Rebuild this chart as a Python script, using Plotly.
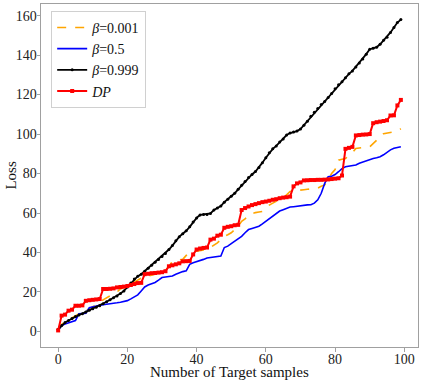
import plotly.graph_objects as go

# x = number of target samples
samples = list(range(100))

loss_b001 = [0.5, 3.5, 5.0, 6.0, 7.0, 8.0, 9.0, 9.8, 10.5, 11.5,
             12.5, 13.5, 14.5, 16.0, 17.0, 18.0, 19.0, 20.0, 21.5, 22.2,
             23.0, 23.8, 25.0, 26.0, 27.0, 27.5, 28.0, 28.5, 29.0, 30.0,
             30.6, 31.0, 33.0, 35.5, 36.0, 36.3, 36.5, 38.5, 40.0, 40.3,
             40.7, 41.0, 41.3, 41.6, 42.5, 43.5, 44.9, 46.5, 48.2, 49.0,
             50.0, 51.6, 53.3, 55.8, 57.0, 59.1, 59.8, 60.2, 60.5, 60.8,
             62.5, 64.0, 65.0, 66.0, 67.0, 67.5, 69.0, 70.9, 71.2, 71.5,
             71.7, 71.8, 72.0, 72.2, 72.4, 72.6, 73.5, 74.2, 77.0, 80.0,
             82.0, 86.8, 87.2, 87.6, 89.3, 90.5, 92.7, 93.0, 93.2, 93.4,
             93.5, 95.0, 96.8, 98.5, 100.2, 100.5, 100.8, 101.0, 101.5, 102.7]

loss_b05 = [0.5, 3.0, 3.8, 4.5, 5.0, 5.5, 8.9, 9.0, 9.2, 12.0,
            12.5, 13.0, 13.2, 13.5, 13.7, 13.9, 14.0, 14.5, 14.8, 15.2,
            15.6, 16.5, 17.5, 18.5, 20.5, 22.5, 23.5, 24.2, 24.8, 26.0,
            27.3, 27.6, 27.9, 28.1, 29.0, 29.8, 30.3, 30.7, 34.0, 34.8,
            35.3, 35.7, 36.5, 37.2, 37.5, 37.6, 37.8, 38.2, 42.5, 43.2,
            44.5, 45.7, 47.0, 48.2, 50.0, 51.6, 52.2, 52.8, 53.3, 54.5,
            55.8, 57.5, 58.5, 59.8, 61.0, 61.7, 62.5, 63.0, 63.2, 63.5,
            63.7, 64.0, 64.1, 64.2, 65.0, 66.7, 70.0, 75.0, 78.4, 78.6,
            79.5, 80.9, 82.5, 83.4, 83.7, 84.0, 84.3, 85.2, 85.9, 86.2,
            87.2, 87.6, 88.0, 88.5, 89.5, 91.0, 92.0, 92.8, 93.3, 93.6]

loss_b0999 = [1.0, 3.0, 4.5, 5.5, 6.5, 7.5, 8.3, 9.0, 9.8, 10.7,
              11.5, 12.2, 13.0, 14.0, 15.0, 16.0, 17.0, 18.0, 19.2, 20.5,
              22.5, 24.5, 26.5, 28.0, 29.0, 30.5, 32.0, 33.5, 35.0, 36.5,
              38.0, 39.5, 41.5, 43.5, 46.0, 48.0, 49.5, 51.0, 53.0, 55.5,
              57.5, 59.0, 59.2, 59.3, 59.8, 61.5, 62.5, 63.5, 65.5, 67.0,
              68.5, 70.0, 72.0, 74.0, 76.0, 78.0, 79.5, 81.0, 83.0, 85.5,
              88.0, 90.5, 92.5, 94.0, 96.0, 97.5, 99.5, 100.5, 101.0, 101.5,
              102.5, 104.5, 106.5, 109.0, 111.0, 113.0, 115.0, 116.5, 118.5, 120.5,
              123.0, 125.0, 126.5, 128.5, 130.5, 132.0, 134.0, 136.0, 138.0, 140.5,
              143.0, 143.5, 144.0, 145.5, 147.5, 149.0, 151.5, 154.0, 156.5, 158.0]

loss_dp = [0.5, 8.0, 8.5, 10.5, 11.0, 13.0, 13.0, 13.2, 15.5, 15.8,
           16.0, 16.2, 16.4, 21.5, 21.5, 21.6, 21.8, 22.3, 22.5, 22.7,
           23.0, 23.5, 24.0, 24.5, 24.6, 29.0, 29.2, 29.5, 29.6, 29.8,
           30.0, 30.5, 33.0, 33.5, 34.0, 34.5, 35.5, 35.6, 35.7, 39.0,
           41.5, 42.0, 42.3, 42.5, 46.5, 47.0, 48.5, 49.0, 52.5, 53.0,
           53.3, 53.8, 54.0, 61.5, 62.5, 63.3, 64.0, 64.5, 65.0, 65.5,
           65.8, 66.2, 66.7, 67.0, 67.5, 67.8, 68.0, 68.3, 73.5, 75.0,
           75.5, 76.5, 76.6, 76.7, 76.7, 76.8, 76.8, 76.9, 77.0, 77.2,
           77.4, 77.6, 79.0, 92.5, 93.0, 93.5, 99.3, 99.5, 99.7, 99.8,
           100.0, 105.5, 106.0, 106.3, 106.6, 107.0, 109.4, 109.5, 114.5, 117.3]

fig = go.Figure()

fig.add_trace(go.Scatter(x=samples, y=loss_b001, mode='lines', name='<i>β</i>=0.001',
                         line=dict(color='orange', width=1.6, dash='dash')))
fig.add_trace(go.Scatter(x=samples, y=loss_b05, mode='lines', name='<i>β</i>=0.5',
                         line=dict(color='blue', width=1.6)))
fig.add_trace(go.Scatter(x=samples, y=loss_b0999, mode='lines+markers', name='<i>β</i>=0.999',
                         line=dict(color='black', width=1.8),
                         marker=dict(color='black', size=3, symbol='circle')))
fig.add_trace(go.Scatter(x=samples, y=loss_dp, mode='lines+markers', name='<i>DP</i>',
                         line=dict(color='red', width=2),
                         marker=dict(color='red', size=4, symbol='square')))

axis_common = dict(
    showgrid=False, zeroline=False, automargin=False,
    showline=True, linecolor='#a0a0a0', linewidth=1, mirror=True,
    ticks='outside', ticklen=3.5, tickcolor='#a0a0a0',
    tickfont=dict(family='Liberation Serif', size=14, color='#222'),
)

fig.update_layout(
    width=423, height=380,
    margin=dict(l=41, r=5, t=4, b=33),
    paper_bgcolor='white', plot_bgcolor='white',
    font=dict(family='Liberation Serif', size=14, color='#111'),
    xaxis=dict(axis_common, range=[-4.95, 103.95], tickvals=[0, 20, 40, 60, 80, 100],
               ticklabelstandoff=-4),
    yaxis=dict(axis_common, range=[-7.9, 165.9], tickvals=[0, 20, 40, 60, 80, 100, 120, 140, 160],
               ticklabelstandoff=-3),
    legend=dict(x=0.027, y=0.98, xanchor='left', yanchor='top',
                bgcolor='rgba(255,255,255,0.8)', bordercolor='#d0d0d0', borderwidth=1,
                font=dict(family='Liberation Serif', size=14), itemwidth=30,
                tracegroupgap=0),
    showlegend=True,
)

# axis titles as annotations (fixed margins leave no room for plotly's own titles)
fig.add_annotation(text='Number of Target samples', xref='paper', yref='paper',
                   x=0.5, y=-0.073, xanchor='center', yanchor='middle', showarrow=False,
                   font=dict(family='Liberation Serif', size=15, color='#111'))
fig.add_annotation(text='Loss', xref='paper', yref='paper', textangle=-90,
                   x=-0.082, y=0.5, xanchor='center', yanchor='middle', showarrow=False,
                   font=dict(family='Liberation Serif', size=15, color='#111'))

# the page's default body margin would shift the figure by 8px
fig.write_html("out.html", config={'displayModeBar': False},
               post_script="document.body.style.margin='0';")
